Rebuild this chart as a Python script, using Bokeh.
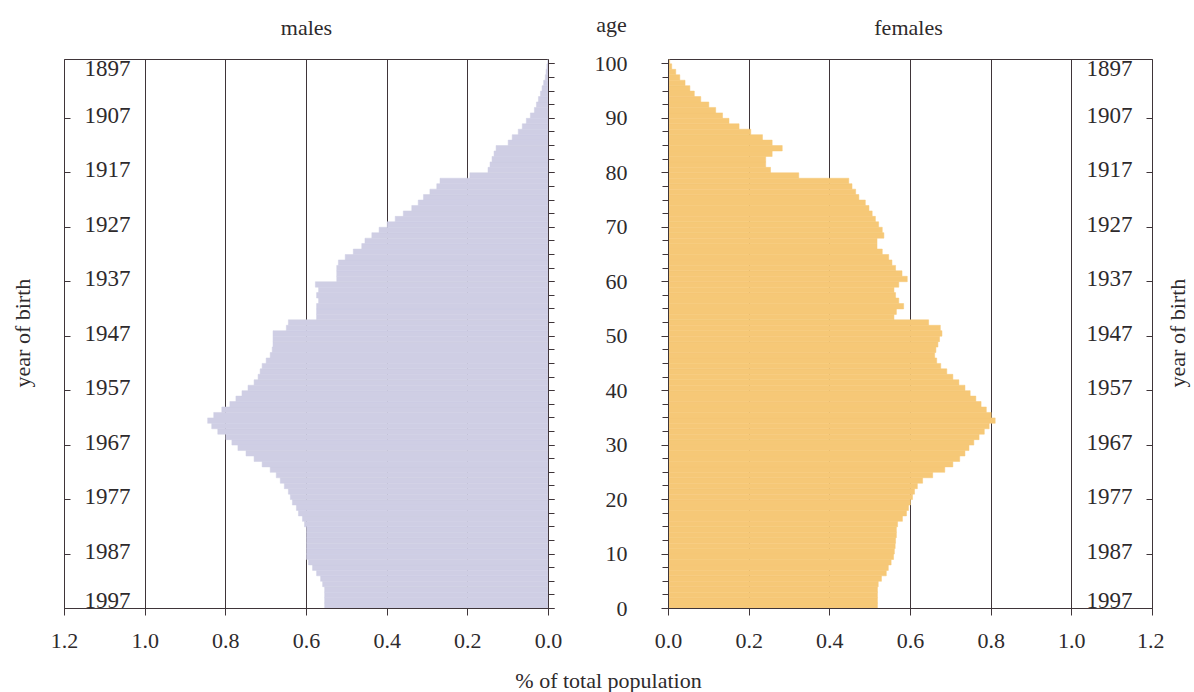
from math import pi

from bokeh.plotting import figure
from bokeh.layouts import row, column
from bokeh.models import (Range1d, FixedTicker, LinearAxis, Label,
                          PrintfTickFormatter, ColumnDataSource)
from bokeh.embed import file_html
from bokeh.resources import INLINE
from bokeh.core.properties import value

# ---------------- data ----------------
ages = list(range(0, 101))

males = [
    0.555, 0.555, 0.555, 0.555, 0.560, 0.565, 0.575, 0.585, 0.595, 0.600,   # 0-9
    0.600, 0.600, 0.600, 0.600, 0.600, 0.605, 0.610, 0.620, 0.625, 0.635,   # 10-19
    0.640, 0.645, 0.655, 0.665, 0.675, 0.690, 0.710, 0.730, 0.750, 0.770,   # 20-29
    0.785, 0.800, 0.820, 0.835, 0.845, 0.830, 0.810, 0.790, 0.775, 0.760,   # 30-39
    0.745, 0.730, 0.720, 0.715, 0.710, 0.700, 0.690, 0.685, 0.683, 0.683,   # 40-49
    0.683, 0.650, 0.645, 0.575, 0.575, 0.575, 0.570, 0.575, 0.570, 0.578,   # 50-59
    0.525, 0.525, 0.525, 0.521, 0.504, 0.484, 0.463, 0.455, 0.438, 0.420,   # 60-69
    0.400, 0.380, 0.360, 0.339, 0.323, 0.310, 0.294, 0.277, 0.269, 0.195,   # 70-79
    0.150, 0.145, 0.140, 0.135, 0.130, 0.100, 0.090, 0.075, 0.065, 0.055,   # 80-89
    0.045, 0.035, 0.030, 0.025, 0.020, 0.016, 0.012, 0.008, 0.006, 0.004,   # 90-99
    0.002,                                                                  # 100
]

females = [
    0.518, 0.518, 0.518, 0.518, 0.520, 0.528, 0.540, 0.545, 0.552, 0.558,   # 0-9
    0.560, 0.562, 0.563, 0.565, 0.565, 0.568, 0.580, 0.590, 0.595, 0.600,   # 10-19
    0.605, 0.610, 0.617, 0.630, 0.655, 0.685, 0.705, 0.722, 0.735, 0.745,   # 20-29
    0.757, 0.770, 0.783, 0.795, 0.810, 0.800, 0.788, 0.775, 0.762, 0.748,   # 30-39
    0.735, 0.720, 0.705, 0.690, 0.675, 0.665, 0.660, 0.663, 0.668, 0.672,   # 40-49
    0.678, 0.674, 0.645, 0.559, 0.565, 0.583, 0.571, 0.563, 0.559, 0.571,   # 50-59
    0.592, 0.579, 0.563, 0.554, 0.546, 0.530, 0.517, 0.517, 0.534, 0.530,   # 60-69
    0.521, 0.513, 0.505, 0.497, 0.488, 0.472, 0.464, 0.455, 0.447, 0.323,   # 70-79
    0.253, 0.241, 0.241, 0.257, 0.282, 0.257, 0.233, 0.204, 0.175, 0.150,   # 80-89
    0.134, 0.117, 0.100, 0.080, 0.064, 0.053, 0.041, 0.028, 0.018, 0.008,   # 90-99
    0.003,                                                                  # 100
]

survey_year = 1997
birth_years = [1897, 1907, 1917, 1927, 1937, 1947, 1957, 1967, 1977, 1987, 1997]
pct_ticks = [0.0, 0.2, 0.4, 0.6, 0.8, 1.0, 1.2]
grid_ticks = [0.2, 0.4, 0.6, 0.8, 1.0]
age_ticks = [0, 10, 20, 30, 40, 50, 60, 70, 80, 90, 100]
age_minor_ticks = [0, 2.5, 5, 7.5, 10, 12.5, 15, 17.5, 20, 22.5, 25, 27.5, 30,
                   32.5, 35, 37.5, 40, 42.5, 45, 47.5, 50, 52.5, 55, 57.5, 60,
                   62.5, 65, 67.5, 70, 72.5, 75, 77.5, 80, 82.5, 85, 87.5, 90,
                   92.5, 95, 97.5, 100]

# ---------------- style ----------------
FONT = "Liberation Serif"
INK = "#2e2a2c"
RULE = "#3f3539"
MALE = "#CFCEE4"
FEMALE = "#F6C877"
TICK_PX = "22px"
YEAR_PX = "23px"
TEXT_PX = "22px"
AGE_TOP = 100.8

TOP_H = 50      # strip with the panel titles
ROW_H = 614     # the two panels
BOT_H = 28      # strip with the shared x caption
W = 1194
FRAME_H = ROW_H - 9 - 56
PX_PER_AGE = FRAME_H / AGE_TOP


def strip(width, height):
    s = figure(width=width, height=height, x_range=Range1d(0, width),
               y_range=Range1d(0, height), output_backend="svg",
               toolbar_location=None, x_axis_location=None,
               y_axis_location=None, min_border=0, outline_line_color=None,
               background_fill_color="white", border_fill_color="white")
    s.xgrid.visible = False
    s.ygrid.visible = False
    return s


def text_label(s, x, y, text, angle=0.0):
    s.add_layout(Label(x=x, y=y, text=text, angle=angle, text_font=FONT,
                       text_font_size=TEXT_PX, text_color=INK,
                       text_align="center", text_baseline="middle"))


def panel(width, x_range, left, right):
    p = figure(width=width, height=ROW_H, x_range=x_range,
               y_range=Range1d(0, AGE_TOP),
               output_backend="svg", toolbar_location=None,
               min_border_left=left, min_border_right=right,
               min_border_top=9, min_border_bottom=56,
               background_fill_color="white", border_fill_color="white",
               outline_line_color=RULE, outline_line_width=1)
    ax = p.xaxis[0]
    ax.ticker = FixedTicker(ticks=pct_ticks)
    ax.formatter = PrintfTickFormatter(format="%.1f")
    ax.major_tick_in = 0
    ax.major_tick_out = 7
    ax.minor_tick_in = 0
    ax.minor_tick_out = 0
    ax.major_label_standoff = 18
    ax.major_label_text_font = FONT
    ax.major_label_text_font_size = TICK_PX
    ax.major_label_text_color = INK
    ax.axis_line_color = RULE
    ax.major_tick_line_color = RULE
    p.xgrid.ticker = FixedTicker(ticks=grid_ticks)
    p.xgrid.grid_line_color = RULE
    p.xgrid.grid_line_width = 1
    p.ygrid.visible = False
    return p


def silent(ax):
    ax.major_label_text_color = None
    ax.major_label_text_font_size = "1px"
    ax.major_label_standoff = 0
    ax.axis_line_color = RULE
    ax.major_tick_line_color = RULE
    ax.minor_tick_line_color = RULE


def year_labels(p, x_edge, x_off):
    mids = birth_years[1:-1]
    common = dict(x_offset=x_off, text_align="right",
                  text_font=value(FONT), text_font_size=YEAR_PX,
                  text_color=INK)
    lift = 3 / PX_PER_AGE
    src_mid = ColumnDataSource(dict(age=[survey_year - y + lift for y in mids],
                                    lab=[str(y) for y in mids]))
    p.text(x=x_edge, y="age", text="lab", source=src_mid,
           text_baseline="middle", **common)
    top = birth_years[0]
    p.text(x=x_edge, y=AGE_TOP, text=[str(top)],
           text_baseline="top", y_offset=1, **common)
    bot = birth_years[-1]
    p.text(x=x_edge, y=survey_year - bot + 8 / PX_PER_AGE, text=[str(bot)],
           text_baseline="middle", **common)


# ---------------- males ----------------
pm = panel(546, Range1d(1.2, 0.0), 20, 42)
lm = pm.yaxis[0]
lm.ticker = FixedTicker(ticks=age_ticks[1:-1])
lm.major_tick_in = 6
lm.major_tick_out = 0
lm.minor_tick_in = 0
lm.minor_tick_out = 0
silent(lm)
rm = LinearAxis(ticker=FixedTicker(ticks=age_ticks, minor_ticks=age_minor_ticks),
                major_tick_in=0, major_tick_out=6, minor_tick_in=0, minor_tick_out=6)
silent(rm)
pm.add_layout(rm, "right")

src_m = ColumnDataSource(dict(mid=[a + 0.5 for a in ages], val=males))
pm.hbar(y="mid", left=0, right="val", height=1.0, source=src_m,
        fill_color=MALE, line_color=MALE, line_width=0.5)
year_labels(pm, 1.2, 66)

# ---------------- females ----------------
pf = panel(574, Range1d(0.0, 1.2), 78, 12)
lf = pf.yaxis[0]
lf.ticker = FixedTicker(ticks=age_ticks, minor_ticks=age_minor_ticks)
lf.major_tick_in = 0
lf.major_tick_out = 7
lf.minor_tick_in = 0
lf.minor_tick_out = 6
lf.major_label_standoff = 34
lf.major_label_text_font = FONT
lf.major_label_text_font_size = TICK_PX
lf.major_label_text_color = INK
lf.axis_line_color = RULE
lf.major_tick_line_color = RULE
lf.minor_tick_line_color = RULE
rf = LinearAxis(ticker=FixedTicker(ticks=age_ticks[1:-1]),
                major_tick_in=6, major_tick_out=0, minor_tick_in=0, minor_tick_out=0)
silent(rf)
pf.add_layout(rf, "right")

src_f = ColumnDataSource(dict(mid=[a + 0.5 for a in ages], val=females))
pf.hbar(y="mid", left=0, right="val", height=1.0, source=src_f,
        fill_color=FEMALE, line_color=FEMALE, line_width=0.5)
year_labels(pf, 1.2, -20)

# ---------------- side strips: "year of birth" ----------------
sl = strip(44, ROW_H)
text_label(sl, 22, ROW_H - (356 - TOP_H), "year of birth", angle=pi / 2)
sr = strip(30, ROW_H)
text_label(sr, 13, ROW_H - (356 - TOP_H), "year of birth", angle=pi / 2)

# ---------------- top strip: panel titles ----------------
st = strip(W, TOP_H)
text_label(st, 306, TOP_H - 27, "males")
text_label(st, 611, TOP_H - 24, "age")
text_label(st, 908, TOP_H - 27, "females")

# ---------------- bottom strip: shared caption ----------------
sb = strip(W, BOT_H)
text_label(sb, 608, BOT_H - (679.5 - (TOP_H + ROW_H)), "% of total population")

layout = column(st, row(sl, pm, pf, sr), sb)
open("out.html", "w").write(file_html(layout, INLINE))
